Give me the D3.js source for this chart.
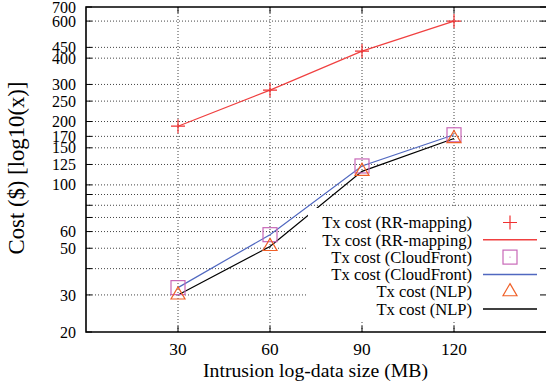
<!DOCTYPE html>
<html>
<head>
<meta charset="utf-8">
<script src="https://cdn.jsdelivr.net/npm/d3@7"></script>
<style>
  body { margin: 0; background: #fff; }
  svg { display: block; font-family: "Liberation Serif", "Times New Roman", serif; }
</style>
</head>
<body>
<svg id="chart" width="546" height="387"></svg>
<script>
// data
const sizes = [30, 60, 90, 120]
const rrMapping = [190, 282, 432, 600]
const cloudFront = [32.5, 58, 123, 173]
const nlp = [30, 51, 116, 166]
const yTicks = [20, 30, 40, 50, 60, 70, 80, 90, 100, 125, 150, 170, 200, 250, 300, 400, 450, 600, 700]
const yUnlabeled = [40, 70, 80, 90]
const xTicks = [30, 60, 90, 120]
const legendLabels = ['Tx cost (RR-mapping)', 'Tx cost (RR-mapping)', 'Tx cost (CloudFront)', 'Tx cost (CloudFront)', 'Tx cost (NLP)', 'Tx cost (NLP)']

const margin = {left: 86, top: 7, right: 0, bottom: 55}
const width = 546 - margin.left - margin.right
const height = 387 - margin.top - margin.bottom

const svg = d3.select('#chart')
const g = svg.append('g').attr('transform', `translate(${margin.left},${margin.top})`)

const x = d3.scaleLinear().domain([0, 150]).range([0, width])
const y = d3.scaleLog().domain([20, 700]).range([height, 0])

// pick a font size so that a sample string gets the wanted width
let fitSize = function (sample, target, base) {
  let t = svg.append('text').style('font-size', base + 'px').text(sample)
  let w = t.node().getComputedTextLength()
  t.remove()
  return w > 0 ? base * target / w : base
}
const tickSizeY = fitSize('100', 24, 16)
const tickSizeX = fitSize('120', 26, 17)
const legendSize = fitSize('Tx cost (RR-mapping)', 150, 16)
const xTitleSize = fitSize('Intrusion log-data size (MB)', 225, 19)
const yTitleSize = fitSize('Cost ($) [log10(x)]', 173, 21)

// grid
g.append('g').selectAll('line')
  .data(yTicks.filter(v => v > 20 && v < 700))
  .enter().append('line')
  .attr('x1', 0).attr('x2', width)
  .attr('y1', d => y(d)).attr('y2', d => y(d))
  .style('stroke', '#444').style('stroke-width', 1).style('stroke-dasharray', '1,2')
g.append('g').selectAll('line')
  .data(xTicks)
  .enter().append('line')
  .attr('x1', d => x(d)).attr('x2', d => x(d))
  .attr('y1', 0).attr('y2', height)
  .style('stroke', '#444').style('stroke-width', 1).style('stroke-dasharray', '1,2')

// series
const series = [
  {vals: rrMapping, line: '#f04040', pt: '#f03030', sym: 'plus'},
  {vals: cloudFront, line: '#5068c0', pt: '#c868b8', sym: 'square'},
  {vals: nlp, line: '#000000', pt: '#f06028', sym: 'triangle'}
]
const lineGen = d3.line().x((d, i) => x(sizes[i])).y(d => y(d))

let drawSymbol = function (sel, sym, color) {
  if (sym === 'plus') {
    sel.append('path').attr('d', 'M-7,0H7M0,-7V7')
      .style('stroke', color).style('stroke-width', 1.2).style('fill', 'none')
  } else if (sym === 'square') {
    sel.append('rect').attr('x', -7).attr('y', -7).attr('width', 14).attr('height', 14)
      .style('stroke', color).style('stroke-width', 1.2).style('fill', 'none')
  } else {
    sel.append('path').attr('d', d3.symbol().type(d3.symbolTriangle).size(85))
      .style('stroke', color).style('stroke-width', 1.2).style('fill', 'none')
  }
}

series.forEach(s => {
  g.append('path').attr('d', lineGen(s.vals))
    .style('stroke', s.line).style('stroke-width', 1.2).style('fill', 'none')
})
series.forEach(s => {
  s.vals.forEach((v, i) => {
    let p = g.append('g').attr('transform', `translate(${x(sizes[i])},${y(v)})`)
    drawSymbol(p, s.sym, s.pt)
  })
})

// legend (opaque)
const legend = g.append('g')
legend.append('rect')
  .attr('x', 222).attr('y', 201).attr('width', width - 222).attr('height', 113)
  .style('fill', '#fff')
legendLabels.forEach((t, i) => {
  let yy = 215.5 + i * 17.3
  legend.append('text')
    .attr('x', 386).attr('y', yy).attr('dy', '0.35em')
    .style('text-anchor', 'end').style('font-size', legendSize + 'px')
    .text(t)
  let s = series[Math.floor(i / 2)]
  if (i % 2 === 0) {
    let p = legend.append('g').attr('transform', `translate(424,${yy})`)
    drawSymbol(p, s.sym, s.pt)
    if (s.sym === 'square') p.append('circle').attr('r', 0.6).style('fill', s.pt)
  } else {
    legend.append('line').attr('x1', 397).attr('x2', 451).attr('y1', yy).attr('y2', yy)
      .style('stroke', s.line).style('stroke-width', 1.5)
  }
})

// tick marks (both sides, inward)
g.append('g').selectAll('line')
  .data(yTicks)
  .enter().append('line')
  .attr('x1', 0).attr('x2', 6)
  .attr('y1', d => y(d)).attr('y2', d => y(d))
  .style('stroke', '#000').style('stroke-width', 1)
g.append('g').selectAll('line')
  .data(yTicks)
  .enter().append('line')
  .attr('x1', width).attr('x2', width - 6)
  .attr('y1', d => y(d)).attr('y2', d => y(d))
  .style('stroke', '#000').style('stroke-width', 1)
g.append('g').selectAll('line')
  .data(xTicks)
  .enter().append('line')
  .attr('x1', d => x(d)).attr('x2', d => x(d))
  .attr('y1', height).attr('y2', height - 6)
  .style('stroke', '#000').style('stroke-width', 1)
g.append('g').selectAll('line')
  .data(xTicks)
  .enter().append('line')
  .attr('x1', d => x(d)).attr('x2', d => x(d))
  .attr('y1', 0).attr('y2', 6)
  .style('stroke', '#000').style('stroke-width', 1)

// border
g.append('path')
  .attr('d', `M${width},0H0V${height}H${width}`)
  .style('stroke', '#000').style('stroke-width', 1.6).style('fill', 'none')

// tick labels
g.append('g').selectAll('text')
  .data(yTicks.filter(v => !yUnlabeled.includes(v)))
  .enter().append('text')
  .attr('x', -10).attr('y', d => y(d)).attr('dy', '0.35em')
  .style('text-anchor', 'end').style('font-size', tickSizeY + 'px')
  .text(d => d)
g.append('g').selectAll('text')
  .data(xTicks)
  .enter().append('text')
  .attr('x', d => x(d)).attr('y', height + 23)
  .style('text-anchor', 'middle').style('font-size', tickSizeX + 'px')
  .text(d => d)

// axis titles
svg.append('text')
  .attr('x', 315.5).attr('y', 377)
  .style('text-anchor', 'middle').style('font-size', xTitleSize + 'px')
  .text('Intrusion log-data size (MB)')
svg.append('text')
  .attr('transform', `translate(24, 168) rotate(-90)`)
  .style('text-anchor', 'middle').style('font-size', yTitleSize + 'px')
  .text('Cost ($) [log10(x)]')
</script>
</body>
</html>
